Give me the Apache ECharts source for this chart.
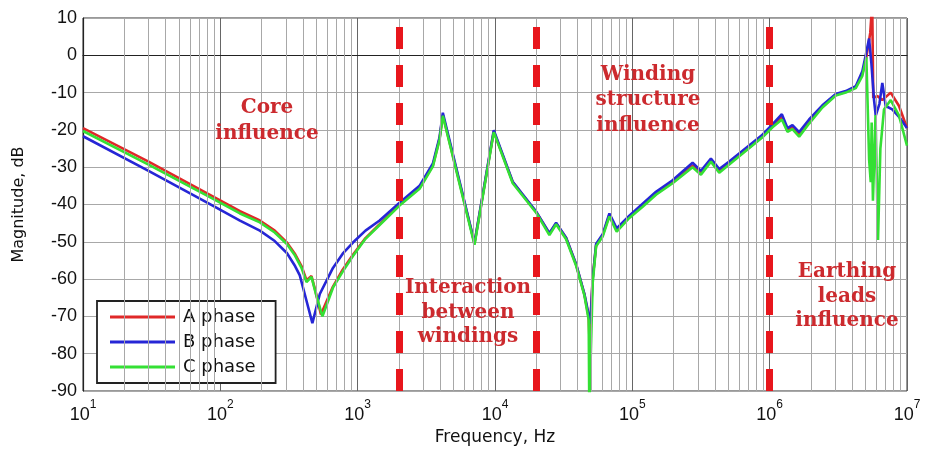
<!DOCTYPE html>
<html>
<head>
<meta charset="utf-8">
<script src="https://cdn.jsdelivr.net/npm/echarts@6/dist/echarts.min.js"></script>
<style>
  html, body { margin: 0; padding: 0; background: #fff; }
  #chart { width: 933px; height: 451px; }
</style>
</head>
<body>
<div id="chart"></div>
<script>
// frequency (Hz) / magnitude (dB)
var freqA = [10, 30, 88, 139, 194, 249, 305, 350, 390, 424, 461, 495, 540, 661, 778, 924, 1140, 1445, 2018, 2823, 3530, 3945, 4170,
  7090, 9795, 13460, 19940, 24900, 27860, 32950, 38970, 44780, 48110, 48700, 51450, 54450, 60840, 68080,
  76920, 95100, 118900, 148700, 196400, 274600, 316000, 373500, 429300, 507500, 886000, 1048000, 1227000,
  1347000, 1465000, 1640000, 1937000, 2421000, 3030000, 3580000, 4236000, 4730000, 5058000, 5400000,
  5580000, 5680000, 6080000, 6610000, 7610000, 8750000, 10000000];
var magA = [-19.5, -28.5, -37.8, -41.8, -44.3, -47, -50.2, -53.3, -56.5, -60.3, -59.2, -63.5, -69.5, -62, -57.5, -53.5, -49, -45.3, -40, -35.5, -29.5, -22.4, -16,
  -50.4, -20.4, -34, -42, -47.8, -45.1, -49, -56.1, -64.1, -70.3, -76, -59.7, -51, -48.2, -42.8,
  -46.8, -43.3, -40.2, -37.2, -34, -29.6, -31.5, -28.3, -31, -29, -21.8, -19, -16.5,
  -20, -19.2, -21.3, -17.8, -13.8, -10.6, -9.8, -8.5, -5, -0.5, 6,
  14, -11.4, -10.9, -12, -10, -13.6, -19.5];

var freqB = [10, 30, 88, 139, 194, 249, 305, 350, 379, 424, 468, 530, 661, 778, 924, 1140, 1445, 2018, 2823, 3530, 3945, 4170,
  7090, 9795, 13460, 19940, 24900, 27860, 32950, 38970, 44780, 48700, 49500, 51450, 54450, 60840, 68080,
  76920, 95100, 118900, 148700, 196400, 274600, 316000, 373500, 429300, 507500, 886000, 1048000, 1227000,
  1347000, 1465000, 1640000, 1937000, 2421000, 3030000, 3580000, 4236000, 4730000, 5058000, 5295000,
  5500000, 5755000, 5920000, 6300000, 6610000, 7000000, 7810000, 8750000, 10000000];
var magB = [-21.7, -31, -40.3, -44.3, -47, -49.8, -53, -56.5, -59, -65.8, -71.8, -64, -57, -53.2, -50.2, -47, -44.3, -39.5, -35, -29, -22, -15.4,
  -50.3, -20.1, -33.9, -41.9, -47.7, -44.9, -48.9, -56, -64, -70.5, -72, -60, -50.6, -48, -42.4,
  -46.4, -43, -39.8, -36.6, -33.5, -28.8, -31, -27.7, -30.5, -28.5, -21.3, -18.5, -15.8,
  -19.5, -18.7, -20.6, -17.2, -13.4, -10.4, -9.6, -8.3, -4.3, 0.8, 4.5,
  -2, -12, -16.2, -13, -7.4, -13.6, -14.5, -16.5, -19.5];

var freqC = [10, 30, 88, 139, 194, 249, 305, 350, 390, 424, 461, 495, 554, 661, 778, 924, 1140, 1445, 2018, 2823, 3530, 3945, 4170,
  7090, 9795, 13460, 19940, 24900, 27860, 32950, 38970, 44780, 48110, 48600, 49300, 51450, 54450, 60840, 68080,
  76920, 95100, 118900, 148700, 196400, 274600, 316000, 373500, 429300, 507500, 886000, 1048000, 1227000,
  1347000, 1465000, 1640000, 1937000, 2421000, 3030000, 3580000, 4236000, 4730000, 5058000, 5300000,
  5445000, 5530000, 5650000, 5900000, 6150000, 6400000, 6800000, 7610000, 8750000, 10000000];
var magC = [-20.3, -29.3, -38.4, -42.4, -44.8, -47.5, -50.6, -53.7, -57, -60.8, -59.4, -63.8, -70, -62.3, -58, -53.8, -49.2, -45.5, -40.3, -35.8, -29.8, -22.7, -16.2,
  -50.8, -20.6, -34.3, -42.2, -48.2, -45.3, -49.3, -56.4, -64.4, -71, -95, -95, -61, -51.2, -48.6, -43.2,
  -47.3, -43.6, -40.6, -37.4, -34.3, -30, -32, -28.5, -31.5, -29.3, -22, -19.3, -17.2,
  -20.5, -19.8, -21.8, -18.3, -14, -10.8, -10, -8.8, -5.5, -0.5, -28,
  -34, -18, -39, -16, -49.5, -25, -14.5, -12, -16.2, -24.2];

var phaseNames = ['A phase', 'B phase', 'C phase'];
var phaseColors = ['#e02828', '#2626d6', '#34e034'];

// region boundaries (Hz)
var boundaries = [2000, 20000, 1000000];
var decades = [10, 100, 1000, 10000, 100000, 1000000];
var minorSteps = [2, 3, 4, 5, 6, 7, 8, 9];

function pairs(f, m) {
  return f.map(function (v, i) { return [v, m[i]]; });
}

var minorLines = [];
decades.forEach(function (d) {
  minorSteps.forEach(function (k) { minorLines.push({ xAxis: d * k }); });
});

var notes = [
  { text: 'Core\ninfluence', x: 267, y: 95, lh: 26 },
  { text: 'Interaction\nbetween\nwindings', x: 468, y: 276, lh: 24.5 },
  { text: 'Winding\nstructure\ninfluence', x: 648, y: 62, lh: 25.5 },
  { text: 'Earthing\nleads\ninfluence', x: 847, y: 260, lh: 24.5 }
];

var chart = echarts.init(document.getElementById('chart'));

var series = [{
  name: 'grid',
  type: 'line',
  data: [],
  z: 1,
  silent: true,
  markLine: {
    silent: true,
    symbol: ['none', 'none'],
    label: { show: false },
    lineStyle: { color: '#a8a8a8', width: 1, type: 'solid' },
    data: minorLines
  }
}];

var allData = [pairs(freqA, magA), pairs(freqB, magB), pairs(freqC, magC)];
phaseNames.forEach(function (n, i) {
  series.push({
    name: n,
    type: 'line',
    data: allData[i],
    symbol: 'none',
    clip: true,
    z: 2 + i,
    lineStyle: { color: phaseColors[i], width: 2.6 },
    itemStyle: { color: phaseColors[i] }
  });
});

series.push({
  name: 'bounds',
  type: 'line',
  data: [],
  z: 8,
  silent: true,
  markLine: {
    silent: true,
    symbol: ['none', 'none'],
    label: { show: false },
    lineStyle: { color: '#e8161c', width: 7, type: [22, 16] },
    data: boundaries.map(function (b) { return { xAxis: b }; })
  }
});

var option = {
  backgroundColor: '#fff',
  animation: false,
  grid: {
    left: 83, right: 26, top: 18, bottom: 57,
    show: true, borderColor: '#333', borderWidth: 1
  },
  legend: {
    data: phaseNames.map(function (n, i) {
      return { name: n, icon: 'rect', itemStyle: { color: phaseColors[i] } };
    }),
    orient: 'vertical',
    left: 97, top: 301,
    backgroundColor: '#fff',
    borderColor: '#222',
    borderWidth: 1.8,
    borderRadius: 0,
    padding: [7, 20, 7, 13],
    itemWidth: 65,
    itemHeight: 3,
    itemGap: 7,
    textStyle: { fontFamily: 'DejaVu Sans', fontSize: 18, color: '#111', padding: [0, 0, 0, 3] }
  },
  xAxis: {
    type: 'log',
    logBase: 10,
    min: 10,
    max: 10000000,
    name: 'Frequency, Hz',
    nameLocation: 'middle',
    nameGap: 38,
    nameTextStyle: { fontFamily: 'DejaVu Sans', fontSize: 17, color: '#111' },
    axisLine: { lineStyle: { color: '#222', width: 1.2 } },
    axisTick: { show: false },
    axisLabel: {
      margin: 8,
      formatter: function (v) {
        return '{b|10}{s|' + Math.round(Math.log10(v)) + '}';
      },
      rich: {
        b: { fontFamily: 'Liberation Sans', fontSize: 18, color: '#111', verticalAlign: 'bottom', lineHeight: 25 },
        s: { fontFamily: 'Liberation Sans', fontSize: 12, color: '#111', verticalAlign: 'top', lineHeight: 12 }
      }
    },
    splitLine: { show: true, lineStyle: { color: '#666', width: 1 } }
  },
  yAxis: {
    type: 'value',
    min: -90,
    max: 10,
    interval: 10,
    name: 'Magnitude, dB',
    nameLocation: 'middle',
    nameGap: 56,
    nameTextStyle: { fontFamily: 'DejaVu Sans', fontSize: 16, color: '#111' },
    axisLine: { show: true, lineStyle: { color: '#222', width: 1.2 } },
    axisTick: { show: false },
    axisLabel: { fontFamily: 'Liberation Sans', fontSize: 18, color: '#111', margin: 6 },
    splitLine: { show: true, lineStyle: { color: '#a8a8a8', width: 1 } }
  },
  graphic: notes.map(function (t) {
    return {
      type: 'text',
      z: 100,
      x: t.x,
      y: t.y,
      style: {
        text: t.text,
        font: 'bold 20px "DejaVu Serif"',
        fill: '#cc2a2e',
        align: 'center',
        verticalAlign: 'top',
        lineHeight: t.lh
      }
    };
  }),
  series: series
};

chart.setOption(option);
</script>
</body>
</html>
